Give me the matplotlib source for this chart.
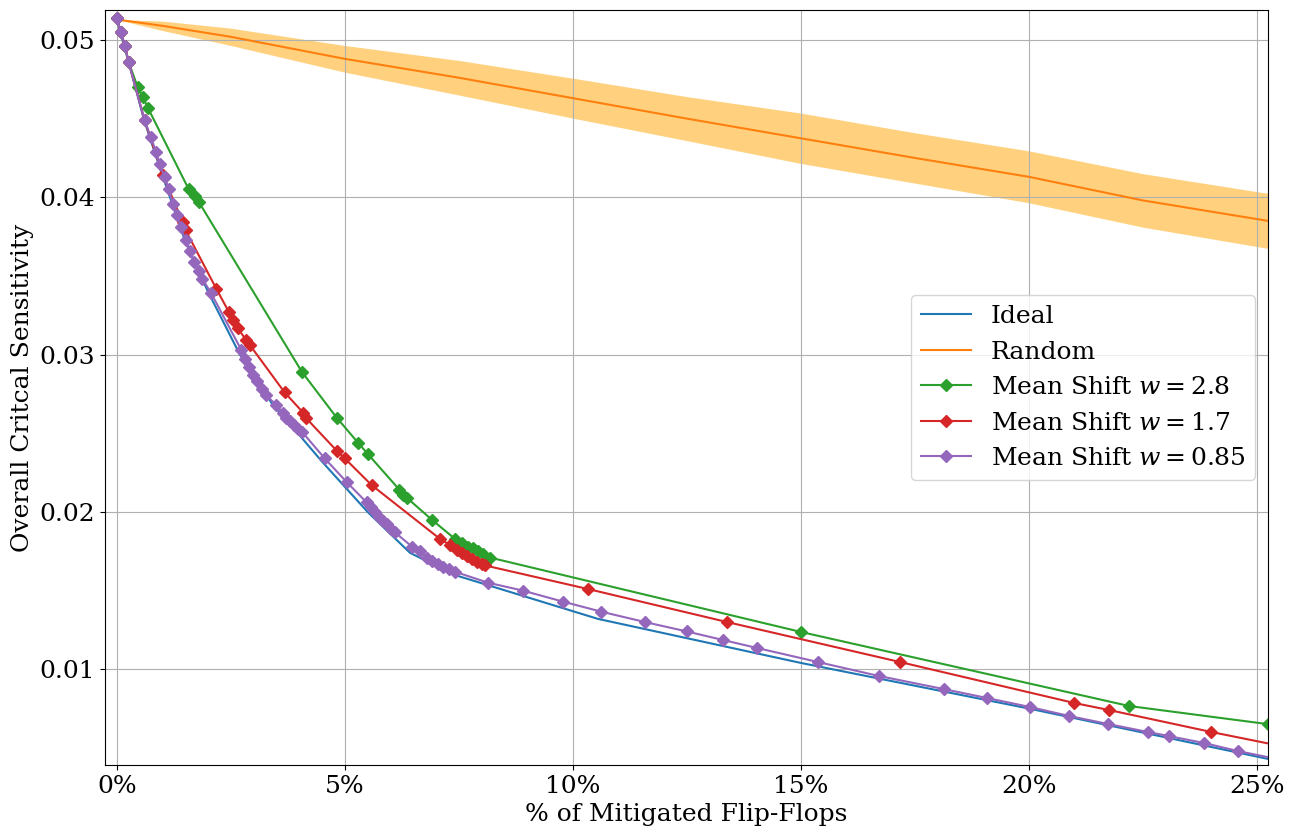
import matplotlib
matplotlib.use('Agg')
import numpy as np
import matplotlib.pyplot as plt
from matplotlib.ticker import PercentFormatter

# x values are in percent of mitigated flip-flops
ideal_x = [0.0, 0.26, 0.6, 1.0, 1.5, 2.0, 2.7, 3.4, 4.0, 4.5, 5.0, 5.5, 6.0,
           6.43, 7.4, 10.55, 15.0, 20.0, 25.24]
ideal_y = [0.0513, 0.0486, 0.0449, 0.0414, 0.0372, 0.0340, 0.0300, 0.0269,
           0.0249, 0.0232, 0.0216, 0.0200, 0.0186, 0.0174, 0.0160, 0.0132,
           0.0104, 0.0075, 0.0043]

rand_x = [0.0, 1.0, 2.5, 5.0, 7.5, 10.0, 12.5, 15.0, 17.5, 20.0, 22.5, 25.24]
rand_y = [0.0513, 0.0509, 0.0502, 0.0488, 0.0476, 0.0463, 0.0450, 0.04375,
          0.0425, 0.0413, 0.0398, 0.0385]
rand_err = [0.0, 0.0003, 0.00055, 0.00085, 0.0011, 0.00127, 0.0014, 0.0016,
            0.0016, 0.00165, 0.0017, 0.00175]

ms28_x = [0.0, 0.09, 0.18, 0.26, 0.46, 0.57, 0.68, 1.58, 1.71, 1.80, 4.06,
          4.82, 5.29, 5.50, 6.20, 6.28, 6.36, 6.91, 7.41, 7.57, 7.70, 7.81,
          7.92, 8.03, 8.18, 15.0, 22.2, 25.24]
ms28_y = [0.0514, 0.0505, 0.0496, 0.0486, 0.0470, 0.0464, 0.0457, 0.0405,
          0.0401, 0.0397, 0.0289, 0.0260, 0.0244, 0.0237, 0.0214, 0.0211,
          0.0209, 0.0195, 0.0183, 0.0180, 0.0178, 0.0177, 0.0175, 0.0173,
          0.0171, 0.01237, 0.00766, 0.00651]

ms17_x = [0.0, 0.09, 0.18, 0.26, 0.61, 1.01, 1.45, 1.51, 2.18, 2.46, 2.55,
          2.65, 2.84, 2.92, 3.68, 4.09, 4.14, 4.82, 5.00, 5.59, 7.08, 7.30,
          7.46, 7.57, 7.68, 7.79, 7.90, 8.00, 8.07, 10.33, 13.38, 17.17,
          21.0, 21.75, 24.0, 25.9]
ms17_y = [0.0514, 0.0505, 0.0496, 0.0486, 0.0449, 0.0414, 0.0384, 0.0379,
          0.0342, 0.0327, 0.0322, 0.0317, 0.0309, 0.0306, 0.0276, 0.0263,
          0.0260, 0.0239, 0.0234, 0.0217, 0.0183, 0.0179, 0.0176, 0.0174,
          0.0172, 0.0170, 0.0168, 0.0167, 0.0166, 0.0151, 0.0130, 0.01046,
          0.00785, 0.00741, 0.00601, 0.0049]

ms085_x = [0.0, 0.09, 0.18, 0.26, 0.61, 0.75, 0.86, 0.94, 1.05, 1.14, 1.23,
           1.32, 1.40, 1.51, 1.60, 1.69, 1.80, 1.88, 2.07, 2.73, 2.81, 2.89,
           2.98, 3.07, 3.18, 3.28, 3.50, 3.64, 3.72, 3.80, 3.88, 3.97, 4.06,
           4.56, 5.04, 5.48, 5.57, 5.66, 5.75, 5.84, 5.93, 6.02, 6.10, 6.47,
           6.64, 6.80, 6.92, 7.04, 7.16, 7.28, 7.41, 8.14, 8.90, 9.78, 10.62,
           11.58, 12.5, 13.29, 14.04, 15.37, 16.71, 18.13, 19.08, 20.02,
           20.88, 21.73, 22.61, 23.07, 23.84, 24.58, 25.6]
ms085_y = [0.0514, 0.0505, 0.0496, 0.0486, 0.0449, 0.0438, 0.0429, 0.0421,
           0.0413, 0.0405, 0.0396, 0.0389, 0.0381, 0.0373, 0.0366, 0.0359,
           0.0353, 0.0348, 0.0339, 0.0303, 0.0297, 0.0292, 0.0287, 0.0283,
           0.0278, 0.0274, 0.0268, 0.0263, 0.0260, 0.0258, 0.0255, 0.0253,
           0.0251, 0.0234, 0.0219, 0.0206, 0.0203, 0.0200, 0.0197, 0.0194,
           0.0192, 0.0189, 0.0187, 0.0178, 0.0175, 0.0171, 0.0169, 0.0167,
           0.0165, 0.0164, 0.0162, 0.0155, 0.0150, 0.0143, 0.01366, 0.0130,
           0.0124, 0.01186, 0.01135, 0.01046, 0.00957, 0.00874, 0.00817,
           0.0076, 0.00703, 0.00652, 0.00601, 0.00575, 0.00531, 0.0048,
           0.0042]

plt.rcParams['font.family'] = 'DejaVu Serif'
plt.rcParams['mathtext.fontset'] = 'dejavuserif'
plt.rcParams['font.size'] = 18

fig, ax = plt.subplots(figsize=(12.95, 8.39), dpi=100)
fig.subplots_adjust(left=0.081, right=0.979, top=0.988, bottom=0.088)

pct = lambda v: np.array(v) / 100.0

ax.plot(pct(ideal_x), ideal_y, color='C0', label='Ideal')
ry = np.array(rand_y)
re = np.array(rand_err)
ax.plot(pct(rand_x), ry, color='C1', label='Random')
ax.fill_between(pct(rand_x), ry - re, ry + re, color='orange', alpha=0.5,
                linewidth=0)
ax.plot(pct(ms28_x), ms28_y, color='C2', marker='D',
        label=r'Mean Shift $w=2.8$')
ax.plot(pct(ms17_x), ms17_y, color='C3', marker='D',
        label=r'Mean Shift $w=1.7$')
ax.plot(pct(ms085_x), ms085_y, color='C4', marker='D',
        label=r'Mean Shift $w=0.85$')

ax.set_xlim(-0.0026, 0.2524)
ax.set_ylim(0.0039, 0.0519)
ax.xaxis.set_major_formatter(PercentFormatter(xmax=1, decimals=0))
ax.set_xticks([0, 0.05, 0.10, 0.15, 0.20, 0.25])
ax.set_yticks([0.01, 0.02, 0.03, 0.04, 0.05])
ax.grid(True)
ax.set_xlabel('% of Mitigated Flip-Flops')
ax.set_ylabel('Overall Critcal Sensitivity')
ax.legend(loc='center right')

fig.savefig('out.png')
